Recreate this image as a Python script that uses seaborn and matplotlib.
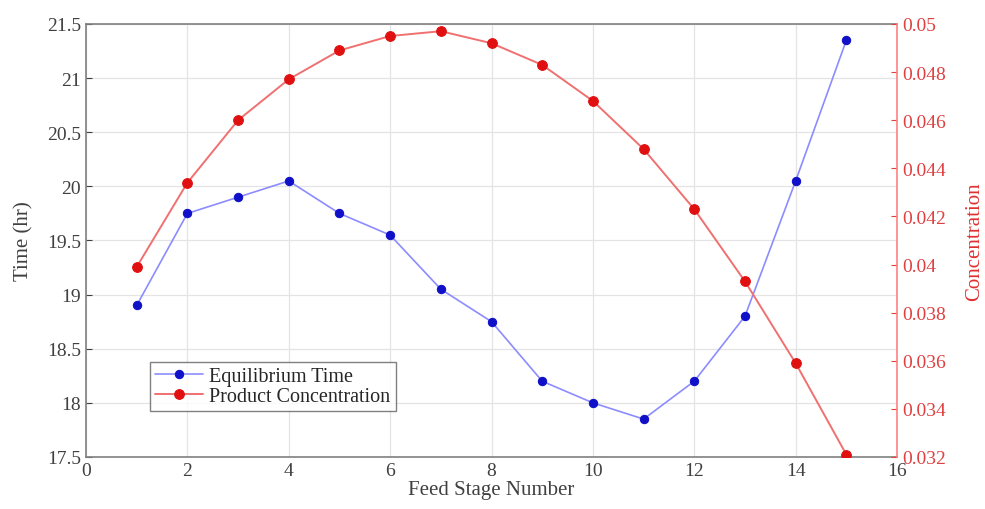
import numpy as np
import pandas as pd
import matplotlib
matplotlib.use('Agg')
import matplotlib.pyplot as plt
import seaborn as sns

# Data
stage = [1, 2, 3, 4, 5, 6, 7, 8, 9, 10, 11, 12, 13, 14, 15]
eq_time = [18.9, 19.75, 19.9, 20.05, 19.75, 19.55, 19.05, 18.75, 18.2, 18.0,
           17.85, 18.2, 18.8, 20.05, 21.35]
product_conc = [0.0399, 0.0434, 0.0460, 0.0477, 0.0489, 0.0495, 0.0497, 0.0492,
                0.0483, 0.0468, 0.0448, 0.0423, 0.0393, 0.0359, 0.0321]

df = pd.DataFrame({'stage': stage, 'time': eq_time, 'conc': product_conc})

sns.set_style('white')
plt.rcParams['font.family'] = ['Liberation Serif', 'DejaVu Serif']

fig = plt.figure(figsize=(9.85, 5.1), dpi=100)
ax = fig.add_axes([0.0873, 0.102, 0.8234, 0.849])
ax2 = ax.twinx()

sns.lineplot(data=df, x='stage', y='time', ax=ax, color='#8c8cff', lw=1.2,
             marker='o', markersize=6, markerfacecolor='#1010c8',
             markeredgecolor='#1010c8', label='Equilibrium Time', legend=False)
sns.lineplot(data=df, x='stage', y='conc', ax=ax2, color='#f07070', lw=1.4,
             marker='o', markersize=7, markerfacecolor='#e01010',
             markeredgecolor='#e01010', label='Product Concentration', legend=False)

ax.set_xlim(0, 16)
ax.set_ylim(17.5, 21.5)
ax2.set_ylim(0.032, 0.05)
ax.set_xticks(np.arange(0, 17, 2))
ax.set_yticks(np.arange(17.5, 21.6, 0.5))
ax.set_yticklabels(['17.5', '18', '18.5', '19', '19.5', '20', '20.5', '21', '21.5'])
ax2.set_yticks(np.arange(0.032, 0.0501, 0.002))
ax2.set_yticklabels(['0.032', '0.034', '0.036', '0.038', '0.04', '0.042',
                     '0.044', '0.046', '0.048', '0.05'])

ax.grid(True, color='#e4e4e4', lw=0.9)
ax.set_axisbelow(True)

ax.set_xlabel('Feed Stage Number', fontsize=15, color='#404040', labelpad=1)
ax.set_ylabel('Time (hr)', fontsize=15, color='#404040', labelpad=10)
ax2.set_ylabel('Concentration', fontsize=15, color='#e03030', labelpad=14)

ax.tick_params(axis='both', labelsize=14, colors='#404040', length=4, direction='in')
ax2.tick_params(axis='y', labelsize=14, colors='#e04040', length=4, direction='in')
ax.tick_params(top=False)

for s in ['left', 'bottom', 'top']:
    ax.spines[s].set_color('#808080')
    ax.spines[s].set_linewidth(1.2)
ax2.spines['right'].set_color('#ff8080')
ax2.spines['right'].set_linewidth(1.2)
for s in ['left', 'bottom', 'top']:
    ax2.spines[s].set_visible(False)
ax.spines['right'].set_visible(False)

h1, l1 = ax.get_legend_handles_labels()
h2, l2 = ax2.get_legend_handles_labels()
leg = ax2.legend(h1 + h2, l1 + l2, loc='lower left', bbox_to_anchor=(0.079, 0.106),
                 borderaxespad=0, fontsize=14.5, frameon=True, fancybox=False,
                 borderpad=0.25, labelspacing=0.05, handlelength=2.4,
                 handletextpad=0.3)
leg.get_frame().set_edgecolor('#606060')
leg.get_frame().set_linewidth(1.0)

fig.savefig('out.png', dpi=100)
